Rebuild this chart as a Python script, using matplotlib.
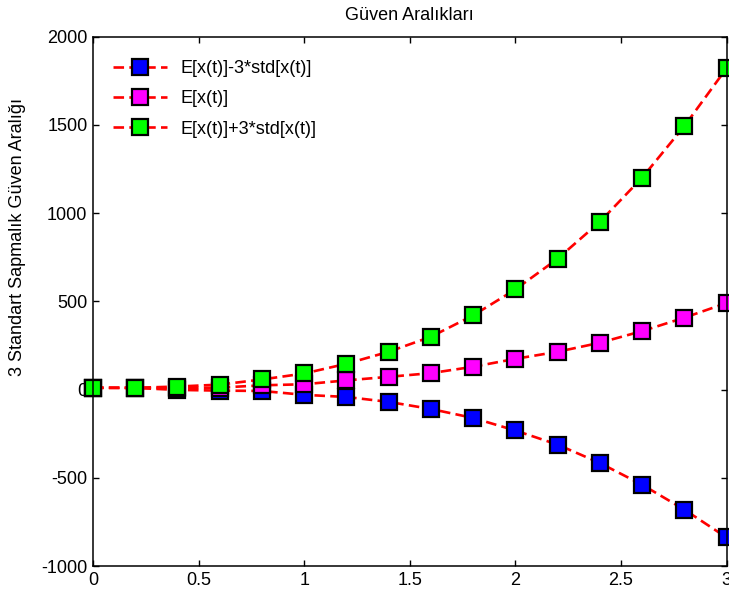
import matplotlib
matplotlib.use("Agg")
from matplotlib import pyplot as plt
import numpy as np

# zaman ekseni ve güven aralığı değerleri
t = [0.0, 0.2, 0.4, 0.6, 0.8, 1.0, 1.2, 1.4, 1.6, 1.8, 2.0, 2.2, 2.4, 2.6, 2.8, 3.0]
alt_sinir = [10, 9, -2, -6, -8, -30, -42, -70, -110, -161, -232, -312, -416, -539, -680, -838]
ortalama = [10, 10, 8, 11, 24, 30, 52, 72, 93, 129, 174, 214, 265, 331, 407, 490]
ust_sinir = [10, 10, 17, 28, 57, 91, 146, 214, 299, 420, 567, 741, 950, 1200, 1492, 1820]

etiketler = ["E[x(t)]-3*std[x(t)]", "E[x(t)]", "E[x(t)]+3*std[x(t)]"]
renkler = ["#0000ff", "#ff00ff", "#00ff00"]

plt.rcParams['font.family'] = ['Liberation Sans', 'DejaVu Sans']
plt.rcParams['font.size'] = 13
plt.rcParams['axes.unicode_minus'] = False

fig = plt.figure(figsize=(7.29, 5.99), dpi=100)
ax = fig.add_axes([0.1276, 0.055, 0.869, 0.884])

for seri, renk, etiket in zip([alt_sinir, ortalama, ust_sinir], renkler, etiketler):
    ax.plot(t, seri, linestyle=(0, (4, 2)), color="red", linewidth=1.9,
            marker="s", markersize=12, markerfacecolor=renk,
            markeredgecolor="black", markeredgewidth=1.6,
            label=etiket, clip_on=False)

ax.set_xlim(0, 3)
ax.set_ylim(-1000, 2000)
ax.set_xticks(np.arange(0, 3.01, 0.5))
ax.set_xticklabels(["0", "0.5", "1", "1.5", "2", "2.5", "3"])
ax.set_yticks(np.arange(-1000, 2001, 500))
ax.tick_params(direction="in", top=True, right=True, length=4, width=1, pad=4)
for s in ax.spines.values():
    s.set_linewidth(1.1)

ax.set_title("Güven Aralıkları", fontsize=13, pad=12)
ax.set_ylabel("3 Standart Sapmalık Güven Aralığı", fontsize=13)
ax.yaxis.set_label_coords(-0.106, 0.622)

leg = ax.legend(loc="upper left", frameon=False, handlelength=3.0,
                borderaxespad=0.3, labelspacing=0.73, handletextpad=0.7,
                bbox_to_anchor=(0.012, 0.979))

fig.savefig("out.png", dpi=100)
